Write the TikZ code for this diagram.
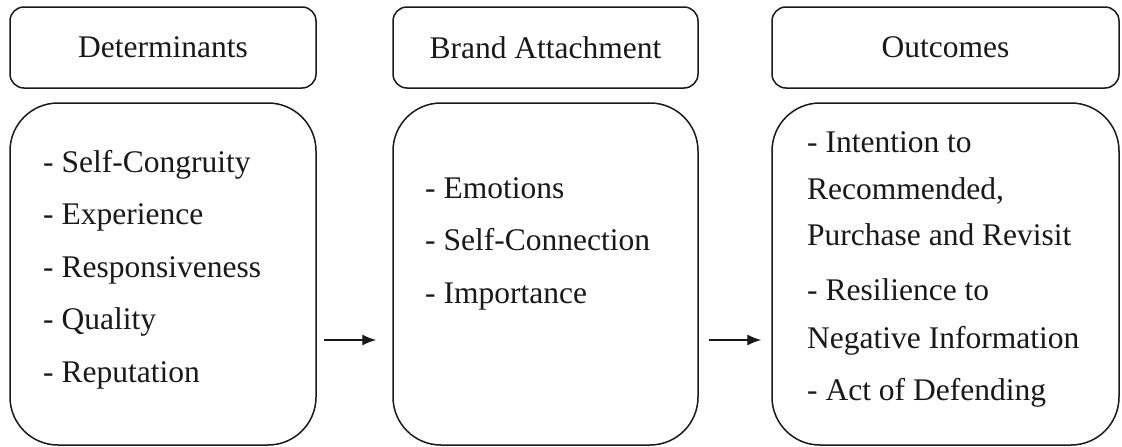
\documentclass[tikz,border=0pt]{standalone}
\usepackage{fontspec}
\setmainfont{Liberation Serif}
\usetikzlibrary{arrows.meta}
\begin{document}
\begin{tikzpicture}[x=1pt,y=-1pt,
  ink/.style={draw=black!90, line width=1.5pt},
  headbox/.style={ink, rounded corners=14pt, minimum height=81pt, inner sep=0pt,
    text=black!90, font=\fontsize{31.5}{38}\selectfont},
  bodybox/.style={ink, rounded corners=48pt, minimum height=342pt, inner sep=0pt},
  item/.style={anchor=base west, inner sep=0pt, text=black!90,
    font=\fontsize{31.5}{38}\selectfont},
  flow/.style={ink, line width=1.4pt, -{Latex[length=14pt,width=11pt]}}]

\useasboundingbox (0,0) rectangle (1122,447);
\fill[white] (0,0) rectangle (1122,447);

% column headers
\node[headbox, minimum width=306pt] (deth) at (163,47.5) {Determinants};
\node[headbox, minimum width=305pt] (atth) at (545.5,47.5) {Brand Attachment};
\node[headbox, minimum width=347pt] (outh) at (945.5,47.5) {Outcomes};

% column bodies
\node[bodybox, minimum width=306pt] (detb) at (163,274) {};
\node[bodybox, minimum width=305pt] (attb) at (545.5,274) {};
\node[bodybox, minimum width=347pt] (outb) at (945.5,274) {};

% determinants
\node[item] (d1) at (43,172) {- Self-Congruity};
\node[item] (d2) at (43,224) {- Experience};
\node[item] (d3) at (43,277) {- Responsiveness};
\node[item] (d4) at (43,329) {- Quality};
\node[item] (d5) at (43,382) {- Reputation};

% brand attachment
\node[item] (a1) at (425,198) {- Emotions};
\node[item] (a2) at (425,250) {- Self-Connection};
\node[item] (a3) at (425,303) {- Importance};

% outcomes
\node[item] (o1) at (807,152) {- Intention to};
\node[item] (o2) at (807,199) {Recommended,};
\node[item] (o3) at (807,245) {Purchase and Revisit};
\node[item] (o4) at (807,300) {- Resilience to};
\node[item] (o5) at (807,348) {Negative Information};
\node[item] (o6) at (807,400) {- Act of Defending};

% flow arrows
\coordinate (lane) at (0,340);
\draw[flow, shorten <=7pt, shorten >=16pt] (detb.east |- lane) -- (attb.west |- lane);
\draw[flow, shorten <=10pt, shorten >=10pt] (attb.east |- lane) -- (outb.west |- lane);
\end{tikzpicture}
\end{document}
